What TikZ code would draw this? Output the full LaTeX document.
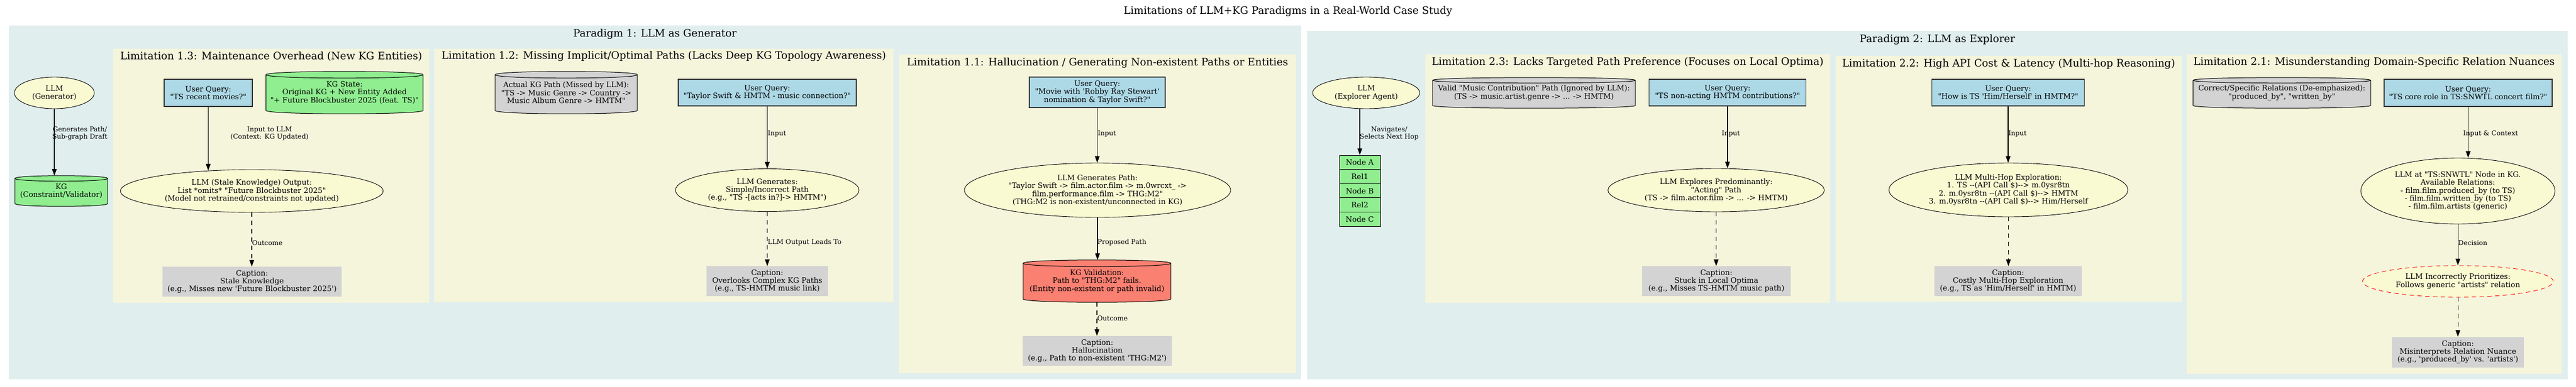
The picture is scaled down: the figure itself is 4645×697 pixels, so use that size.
\documentclass[tikz,border=0pt]{standalone}
\usepackage{fontspec}
\setmainfont{DejaVu Serif}[Ligatures=TeXOff]
\usetikzlibrary{arrows.meta,calc,shapes.geometric}
\definecolor{paraBG}{RGB}{224,238,238}
\definecolor{limBG}{RGB}{245,245,220}
\definecolor{nodeY}{RGB}{250,250,210}
\definecolor{qBlue}{RGB}{173,216,230}
\definecolor{kgGreen}{RGB}{144,238,144}
\definecolor{capGray}{RGB}{211,211,211}
\definecolor{salmonR}{RGB}{250,128,114}
\pgfdeclarelayer{bgA}\pgfdeclarelayer{bgB}\pgfdeclarelayer{bgC}
\pgfsetlayers{bgA,bgB,bgC,main}
\newcommand\drawcyl[3]{%
  \draw[line width=1pt, fill=#3]
    ($(#1.north west)+(0,#2)$) -- ($(#1.south west)+(0,-#2)$)
    .. controls ($(#1.south west)+(0,{#2/3})$) and ($(#1.south east)+(0,{#2/3})$) .. ($(#1.south east)+(0,-#2)$)
    -- ($(#1.north east)+(0,#2)$)
    .. controls ($(#1.north east)+(0,{-#2/3})$) and ($(#1.north west)+(0,{-#2/3})$) .. ($(#1.north west)+(0,#2)$) -- cycle;
  \draw[line width=1pt]
    ($(#1.north west)+(0,#2)$) .. controls ($(#1.north west)+(0,{7*#2/3})$) and ($(#1.north east)+(0,{7*#2/3})$) .. ($(#1.north east)+(0,#2)$);
}
\tikzset{
  sz/.style 2 args={minimum width=#1pt,minimum height=#2pt},
  nfont/.style={font=\fontsize{13.4}{14.4}\selectfont},
  qbox/.style={rectangle,draw=black!80,line width=1.2pt,fill=qBlue,align=center,inner sep=0pt,nfont},
  ybox/.style={ellipse,draw=black,line width=0.9pt,fill=nodeY,align=center,inner sep=0pt,nfont},
  capbox/.style={rectangle,fill=capGray,align=center,inner sep=0pt,nfont},
  cyltxt/.style={rectangle,align=center,inner sep=0pt,nfont},
  recbox/.style={rectangle,draw=black,line width=1pt,fill=kgGreen,inner sep=0pt,nfont,sz={74}{25.6}},
  elab/.style={font=\fontsize{12}{13.4}\selectfont,align=center,inner sep=0pt},
  clab/.style={font=\fontsize{18.6}{22}\selectfont,inner sep=0pt},
  parabox/.style={rectangle,fill=paraBG,inner sep=0pt,anchor=north west},
  limbox/.style={rectangle,fill=limBG,inner sep=0pt,anchor=north west},
  edge/.style={line width=1.1pt,draw=black,-{Triangle[length=12pt,width=8.5pt]}},
  edged/.style={edge,dash pattern=on 8pt off 7pt},
}
\begin{document}
\begin{tikzpicture}[x=1pt,y=-1pt]
\begin{pgfonlayer}{bgA}
  \fill[white] (0,0) rectangle (4645,697);
  \node[parabox,sz={2330.4}{638}] (par1) at (15.6,46) {};
  \node[parabox,sz={2273}{628}] (par2) at (2357,56) {};
\end{pgfonlayer}
\begin{pgfonlayer}{bgB}
  \node[limbox,sz={570}{458}] (lim13) at (204,88) {};
  \node[limbox,sz={828}{457}] (lim12) at (783,88) {};
  \node[limbox,sz={716}{575}] (lim11) at (1621,98) {};
  \node[limbox,sz={730}{448}] (lim23) at (2570,98) {};
  \node[limbox,sz={624}{443}] (lim22) at (3310,101) {};
  \node[limbox,sz={676}{576}] (lim21) at (3943,98) {};
\end{pgfonlayer}
\useasboundingbox (0,0) rectangle (4645,697);

% titles
\node[clab] (title) at (2322.5,20) {Limitations of LLM+KG Paradigms in a Real-World Case Study};
\node[clab] (par1lbl) at (1181,61) {Paradigm 1: LLM as Generator};
\node[clab] (par2lbl) at (3493.5,71) {Paradigm 2: LLM as Explorer};
\node[clab] (lim13lbl) at (489,102) {Limitation 1.3: Maintenance Overhead (New KG Entities)};
\node[clab] (lim12lbl) at (1197,101) {Limitation 1.2: Missing Implicit/Optimal Paths (Lacks Deep KG Topology Awareness)};
\node[clab] (lim11lbl) at (1979,113) {Limitation 1.1: Hallucination / Generating Non-existent Paths or Entities};
\node[clab] (lim23lbl) at (2935,112) {Limitation 2.3: Lacks Targeted Path Preference (Focuses on Local Optima)};
\node[clab] (lim22lbl) at (3622,115) {Limitation 2.2: High API Cost \& Latency (Multi-hop Reasoning)};
\node[clab] (lim21lbl) at (4281,112) {Limitation 2.1: Misunderstanding Domain-Specific Relation Nuances};

% Paradigm 1 core
\node[ybox,sz={144}{57}] (llmG) at (98,167.5) {LLM\\(Generator)};
\node[cyltxt,sz={167}{55}] (kgG) at (110.5,344.5) {KG\\(Constraint/Validator)};

% Limitation 1.3
\node[qbox,sz={159}{49}] (uq13) at (375.5,167.5) {User Query:\\"TS recent movies?"};
\node[cyltxt,sz={283}{76}] (kgs13) at (621.25,167) {KG State:\\Original KG + New Entity Added\\"+ Future Blockbuster 2025 (feat. TS)"};
\node[ybox,sz={474}{77}] (st13) at (454,344.5) {LLM (Stale Knowledge) Output:\\List *omits* "Future Blockbuster 2025"\\(Model not retrained/constraints not updated)};
\node[capbox,sz={323}{54}] (cap13) at (454.5,508) {Caption:\\Stale Knowledge\\(e.g., Misses new 'Future Blockbuster 2025')};

% Limitation 1.2
\node[cyltxt,sz={256}{76}] (akg12) at (1021,167) {Actual KG Path (Missed by LLM):\\"TS -> Music Genre -> Country ->\\Music Album Genre -> HMTM"};
\node[qbox,sz={321}{48}] (uq12) at (1383.5,167) {User Query:\\"Taylor Swift \& HMTM - music connection?"};
\node[ybox,sz={331}{77}] (gen12) at (1383.5,343) {LLM Generates:\\Simple/Incorrect Path\\(e.g., "TS -[acts in?]-> HMTM")};
\node[capbox,sz={219}{54}] (cap12) at (1383.5,507) {Caption:\\Overlooks Complex KG Paths\\(e.g., TS-HMTM music link)};

% Limitation 1.1
\node[qbox,sz={245}{55}] (uq11) at (1978.5,166.5) {User Query:\\"Movie with 'Robby Ray Stewart'\\nomination \& Taylor Swift?"};
\node[ybox,sz={480}{98}] (gen11) at (1979,343) {LLM Generates Path:\\"Taylor Swift -> film.actor.film -> m.0wrcxt\_ ->\\film.performance.film -> THG:M2"\\(THG:M2 is non-existent/unconnected in KG)};
\node[cyltxt,sz={266}{76}] (val11) at (1978,507) {KG Validation:\\Path to "THG:M2" fails.\\(Entity non-existent or path invalid)};
\node[capbox,sz={269}{54}] (cap11) at (1978.5,633) {Caption:\\Hallucination\\(e.g., Path to non-existent 'THG:M2')};

% Paradigm 2 core
\node[ybox,sz={193}{57}] (llmE) at (2463.5,167.5) {LLM\\(Explorer Agent)};
\node[recbox] (recA) at (2452,292.8) {Node A};
\node[recbox] (rec1) at (2452,318.4) {Rel1};
\node[recbox] (recB) at (2452,344) {Node B};
\node[recbox] (rec2) at (2452,369.6) {Rel2};
\node[recbox] (recC) at (2452,395.2) {Node C};

% Limitation 2.3
\node[cyltxt,sz={365.5}{55}] (vkg23) at (2766,167.5) {Valid "Music Contribution" Path (Ignored by LLM):\\(TS -> music.artist.genre -> ... -> HMTM)};
\node[qbox,sz={283}{48}] (uq23) at (3115,167) {User Query:\\"TS non-acting HMTM contributions?"};
\node[ybox,sz={390}{78}] (exp23) at (3094.5,343) {LLM Explores Predominantly:\\"Acting" Path\\(TS -> film.actor.film -> ... -> HMTM)};
\node[capbox,sz={268}{54}] (cap23) at (3095,507) {Caption:\\Stuck in Local Optima\\(e.g., Misses TS-HMTM music path)};

% Limitation 2.2
\node[qbox,sz={275}{48}] (uq22) at (3621,167) {User Query:\\"How is TS 'Him/Herself' in HMTM?"};
\node[ybox,sz={431}{97}] (mh22) at (3621.5,342.5) {LLM Multi-Hop Exploration:\\1. TS --(API Call \$)--> m.0ysr8tn\\2. m.0ysr8tn --(API Call \$)--> HMTM\\3. m.0ysr8tn --(API Call \$)--> Him/Herself};
\node[capbox,sz={266}{54}] (cap22) at (3621,507) {Caption:\\Costly Multi-Hop Exploration\\(e.g., TS as 'Him/Herself' in HMTM)};

% Limitation 2.1
\node[cyltxt,sz={320}{55}] (ckg21) at (4114.6,167.5) {Correct/Specific Relations (De-emphasized):\\"produced\_by", "written\_by"};
\node[qbox,sz={303}{49}] (uq21) at (4450.5,167.5) {User Query:\\"TS core role in TS:SNWTL concert film?"};
\node[ybox,sz={350}{119}] (at21) at (4432,344.5) {LLM at "TS:SNWTL" Node in KG.\\Available Relations:\\- film.film.produced\_by (to TS)\\- film.film.written\_by (to TS)\\- film.film.artists (generic)};
\node[ybox,draw=red,dash pattern=on 8pt off 6pt,sz={344}{57}] (inc21) at (4432,507.5) {LLM Incorrectly Prioritizes:\\Follows generic "artists" relation};
\node[capbox,sz={238}{55}] (cap21) at (4432,635) {Caption:\\Misinterprets Relation Nuance\\(e.g., 'produced\_by' vs. 'artists')};

% cylinders
\begin{pgfonlayer}{bgC}
  \drawcyl{kgG}{5}{kgGreen}
  \drawcyl{kgs13}{6}{kgGreen}
  \drawcyl{akg12}{6}{capGray}
  \drawcyl{val11}{6}{salmonR}
  \drawcyl{vkg23}{5}{capGray}
  \drawcyl{ckg21}{5}{capGray}
\end{pgfonlayer}

% edges
\draw[edge] (llmG.south) -- (llmG.south |- kgG.north);
\draw[edge] (uq13.south) -- ($(uq13.south |- st13.north)+(0,2)$);
\draw[edged] (st13.south) -- (st13.south |- cap13.north);
\draw[edge] (uq12.south) -- (gen12.north);
\draw[edged] (gen12.south) -- (cap12.north);
\draw[edge] (uq11.south) -- (uq11.south |- gen11.north);
\draw[edge] (gen11.south) -- (gen11.south |- val11.north);
\draw[edged] (val11.south) -- (val11.south |- cap11.north);
\draw[edge] (recA.north |- llmE.south) -- (recA.north);
\draw[edge] (uq23.south) -- (uq23.south |- exp23.north);
\draw[edged] (exp23.south) -- (exp23.south |- cap23.north);
\draw[edge] (uq22.south) -- (uq22.south |- mh22.north);
\draw[edged] (mh22.south) -- (mh22.south |- cap22.north);
\draw[edge] (uq21.south) -- (uq21.south |- at21.north);
\draw[edge] (at21.south) -- (inc21.north);
\draw[edged] (inc21.south) -- (cap21.north);

% edge labels
\node[elab] (l1) at (144,241) {Generates Path/\\Sub-graph Draft};
\node[elab] (l2) at (486,241) {Input to LLM\\(Context: KG Updated)};
\node[elab] (l3) at (482,438) {Outcome};
\node[elab] (l4) at (1401,241) {Input};
\node[elab] (l5) at (1451,437) {LLM Output Leads To};
\node[elab] (l6) at (1996,241) {Input};
\node[elab] (l7) at (2023,437) {Proposed Path};
\node[elab] (l8) at (2006,574) {Outcome};
\node[elab] (l9) at (2505,241) {Navigates/\\Selects Next Hop};
\node[elab] (l10) at (3121,241) {Input};
\node[elab] (l11) at (3638,241) {Input};
\node[elab] (l12) at (4491,241) {Input \& Context};
\node[elab] (l13) at (4459,438.5) {Decision};
\end{tikzpicture}
\end{document}
